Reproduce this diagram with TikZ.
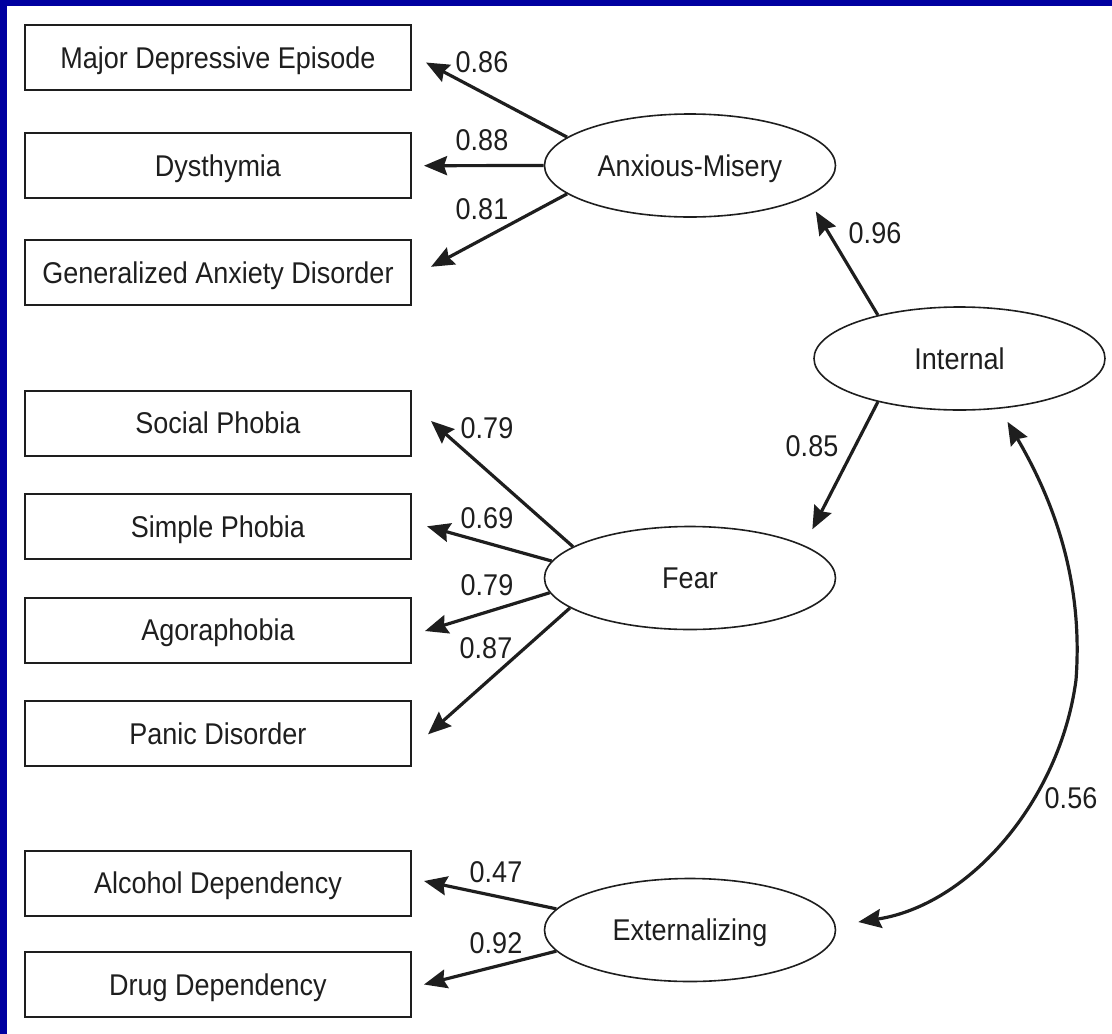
\documentclass[tikz,border=0pt]{standalone}
\usepackage{fontspec}
\setmainfont{Liberation Sans}[FakeStretch=0.9]
\usetikzlibrary{shapes.geometric, arrows.meta}
\definecolor{frame}{RGB}{0,0,160}
\definecolor{ink}{RGB}{30,30,30}

\begin{document}
\begin{tikzpicture}[x=1pt, y=-1pt,
  every node/.style={font=\fontsize{30}{36}\selectfont, text=ink, inner sep=0pt, text depth=0pt},
  obs/.style={draw=ink, line width=2pt, minimum width=386pt, minimum height=65pt},
  lat/.style={ellipse, draw=ink, line width=1.6pt, minimum width=291pt, minimum height=103pt},
  load/.style={draw=ink, line width=3.2pt, -{Stealth[length=23pt, width=19pt, inset=3pt]}},
  cov/.style={load, {Stealth[length=23pt, width=19pt, inset=3pt]}-{Stealth[length=23pt, width=19pt, inset=3pt]}}]
\useasboundingbox (0,0) rectangle (1112,1034);
\fill[frame] (0,0) rectangle (1112,6);
\fill[frame] (0,0) rectangle (7,1034);

\node[obs] (mde) at (218,57.5) {Major Depressive Episode};
\node[obs] (dys) at (218,165.7) {Dysthymia};
\node[obs] (gad) at (218,272.8) {Generalized Anxiety Disorder};
\node[obs] (soc) at (218,423) {Social Phobia};
\node[obs] (sim) at (218,526.3) {Simple Phobia};
\node[obs] (ago) at (218,630) {Agoraphobia};
\node[obs] (pan) at (218,733.3) {Panic Disorder};
\node[obs] (alc) at (218,883) {Alcohol Dependency};
\node[obs] (drg) at (218,984.5) {Drug Dependency};

\node[lat] (am) at (690,165.5) {Anxious-Misery};
\node[lat] (int) at (959.5,358.5) {Internal};
\node[lat] (fear) at (690,578) {Fear};
\node[lat] (ext) at (690,930) {Externalizing};

\draw[load] (am.167.7) -- ([shift={(14,5)}]mde.east);
\draw[load] (am.180) -- ([shift={(12,0)}]dys.east);
\draw[load] (am.193) -- ([shift={(19,-6)}]gad.east);
\draw[load, shorten >=17pt] (int.152) -- (am.345.7);
\draw[load, shorten >=18pt] (int.208.2) -- (fear.16.8);
\draw[load] (fear.165.1) -- ([shift={(19,-2)}]soc.east);
\draw[load] (fear.173.8) -- ([shift={(15,0)}]sim.east);
\draw[load] (fear.186.2) -- ([shift={(13,1)}]ago.east);
\draw[load] (fear.194.1) -- ([shift={(16,1)}]pan.east);
\draw[load] (ext.171.6) -- ([shift={(12,-2)}]alc.east);
\draw[load] (ext.189.9) -- ([shift={(12,0)}]drg.east);
\draw[cov] ([shift={(48,11)}]int.south) .. controls (1065,520) and (1082,600) .. (1076,680) .. controls (1060,800) and (970,905) .. ([shift={(22,-8)}]ext.east);

\node (l1) at (482,62) {0.86};
\node (l2) at (482,140.3) {0.88};
\node (l3) at (482,209) {0.81};
\node (l4) at (875,233) {0.96};
\node (l5) at (812,446) {0.85};
\node (l6) at (487,428) {0.79};
\node (l7) at (487,518) {0.69};
\node (l8) at (487,585) {0.79};
\node (l9) at (486,648) {0.87};
\node (l10) at (496,872) {0.47};
\node (l11) at (496,943) {0.92};
\node (l12) at (1071,798) {0.56};
\end{tikzpicture}
\end{document}
